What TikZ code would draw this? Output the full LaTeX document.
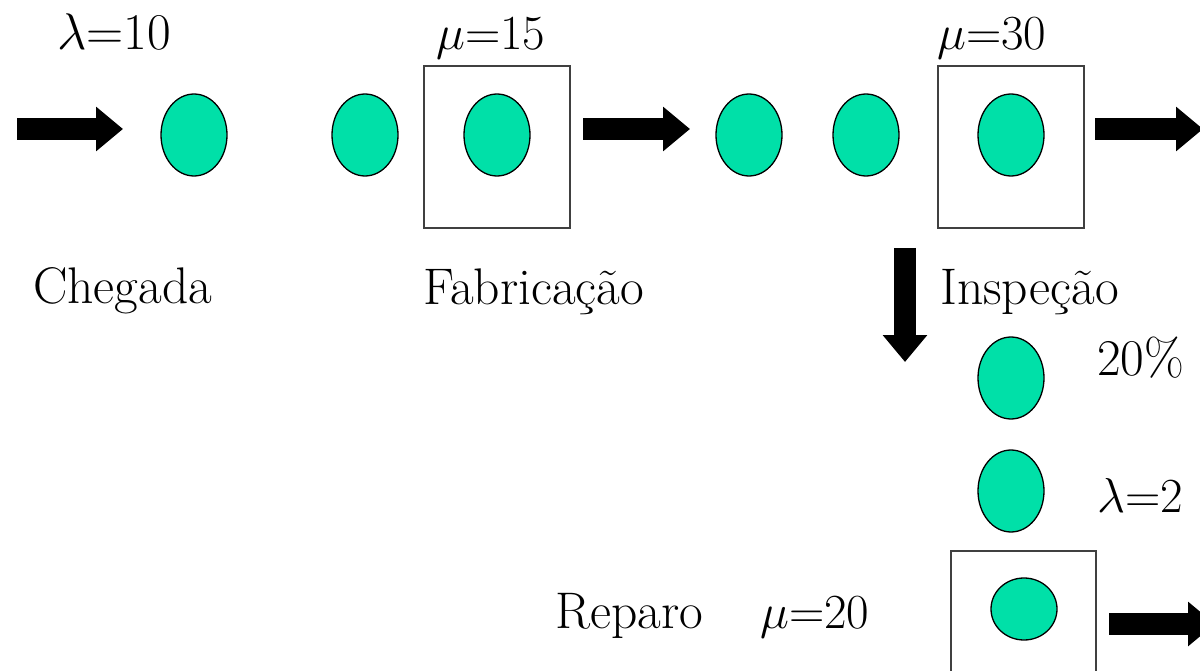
\RequirePackage{fix-cm}
\documentclass[tikz,border=0pt]{standalone}
\usepackage{fontspec}
\usetikzlibrary{shapes.geometric,arrows.meta}
\definecolor{tok}{RGB}{0,224,168}
\tikzset{
  tokn/.style={ellipse, draw=black, line width=1.3pt, fill=tok, minimum width=66pt, minimum height=82pt, inner sep=0pt},
  srv/.style={draw=black!75, line width=1.3pt},
  blkarrow/.style={line width=22pt, -{Triangle[length=27pt, width=43pt]}},
  lbl/.style={anchor=base west, inner sep=0pt, font=\fontsize{51.5}{56}\selectfont},
  glbl/.style={anchor=base west, inner sep=0pt, font=\fontsize{49}{54}\selectfont}
}
\begin{document}
\begin{tikzpicture}[x=1pt,y=-1pt]
\useasboundingbox (0,0) rectangle (1200,671);
\clip (0,0) rectangle (1200,671);
% servers (boxes)
\node[srv, minimum width=146pt, minimum height=162pt, inner sep=0pt] (fab) at (497,147) {};
\node[srv, minimum width=146pt, minimum height=162pt, inner sep=0pt] (insp) at (1011,147) {};
\draw[srv] (951,700) -- (951,551) -- (1096,551) -- (1096,700);
\coordinate (rep) at (1024,609);
% tokens
\node[tokn] (t1) at (194,135) {};
\node[tokn] (t2) at (365,135) {};
\node[tokn] (t3) at (497,135) {};
\node[tokn] (t4) at (749,135) {};
\node[tokn] (t5) at (866,135) {};
\node[tokn] (t6) at (1011,135) {};
\node[tokn] (t7) at (1011,378) {};
\node[tokn] (t8) at (1011,491) {};
\node[tokn, minimum height=62pt, minimum width=66pt] (t9) at (rep) {};
% arrows
\coordinate (a1s) at (17,129);  \coordinate (a1e) at (123,129);
\coordinate (a2s) at (583,129); \coordinate (a2e) at (690,129);
\coordinate (a3s) at (1095,129); \coordinate (a3e) at (1203,129);
\coordinate (a4s) at (905,248); \coordinate (a4e) at (905,362);
\coordinate (a5s) at (1109,624); \coordinate (a5e) at (1215,624);
\draw[blkarrow] (a1s) -- (a1e);
\draw[blkarrow] (a2s) -- (a2e);
\draw[blkarrow] (a3s) -- (a3e);
\draw[blkarrow] (a4s) -- (a4e);
\draw[blkarrow] (a5s) -- (a5e);
% labels
\node[lbl] (l1) at (57,50) {$\lambda$=10};
\node[glbl] (l2) at (436,50) {$\mu$=15};
\node[glbl] (l3) at (937,50) {$\mu$=30};
\node[lbl] (c1) at (33,303) {Chegada};
\node[lbl] (c2) at (423,305) {Fabricação};
\node[lbl] (c3) at (940,305) {Inspeção};
\node[lbl] (p1) at (1097,375) {20\%};
\node[glbl] (p2) at (1097,512) {$\lambda$=2};
\node[lbl] (r1) at (555,628) {Reparo};
\node[glbl] (r2) at (760,628) {$\mu$=20};
\end{tikzpicture}
\end{document}
